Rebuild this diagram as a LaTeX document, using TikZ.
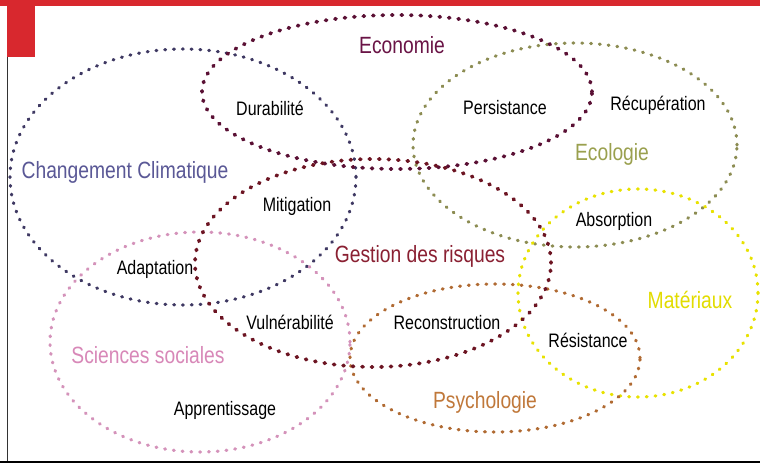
\documentclass[tikz,border=0pt]{standalone}
\usepackage{fontspec}
\setmainfont{Liberation Sans}[FakeStretch=0.82]
\definecolor{bandred}{HTML}{D8282E}
\definecolor{climc}{HTML}{3E3862}
\definecolor{climt}{HTML}{5A5896}
\definecolor{ecoc}{HTML}{5A1034}
\definecolor{ecot}{HTML}{6A1446}
\definecolor{ecolc}{HTML}{8C8C52}
\definecolor{ecolt}{HTML}{9AA04E}
\definecolor{gestc}{HTML}{6C1422}
\definecolor{gestt}{HTML}{8A2032}
\definecolor{socc}{HTML}{D492BA}
\definecolor{soct}{HTML}{D888B8}
\definecolor{psyc}{HTML}{B06A32}
\definecolor{psyt}{HTML}{C0783A}
\definecolor{matc}{HTML}{E8E200}
\definecolor{matt}{HTML}{E2DC00}
\definecolor{baseline}{HTML}{7A7068}
\tikzset{
  dots/.style={line cap=round, dash pattern=on 0.8pt off 8pt, line width=3.2pt},
  bigdots/.style={line cap=round, dash pattern=on 1pt off 8.5pt, line width=3.8pt},
  fieldname/.style={font=\fontsize{23.5}{26}\selectfont, inner sep=0pt},
  term/.style={font=\fontsize{19.5}{22}\selectfont, inner sep=0pt, text=black},
}
\begin{document}
\begin{tikzpicture}[x=1pt,y=-1pt]
\useasboundingbox (0,0) rectangle (760,463);
\fill[white] (0,0) rectangle (760,463);
% frame
\fill[bandred] (0,0) rectangle (760,6);
\fill[bandred] (7,0) rectangle (35,57);
\draw[black!80, line width=1pt] (7.5,57) -- (7.5,462);
\draw[baseline, line width=2pt] (0,462) -- (760,462);
% overlapping fields
\draw[dots, climc] (183,177) ellipse [x radius=173pt, y radius=128pt];
\draw[dots, socc] (200,342) ellipse [x radius=150pt, y radius=110pt];
\draw[dots, ecolc] (575,145) ellipse [x radius=162pt, y radius=102pt];
\draw[dots, matc] (638,293) ellipse [x radius=120pt, y radius=104pt];
\draw[dots, psyc] (495,358) ellipse [x radius=145pt, y radius=74pt];
\draw[bigdots, ecoc] (397,92) ellipse [x radius=195pt, y radius=77pt];
\draw[bigdots, gestc] (373,263) ellipse [x radius=178pt, y radius=104pt];
% field names
\node[fieldname, text=ecot] (economie) at (402,45) {Economie};
\node[fieldname, text=climt] (climat) at (125,172) {Changement Climatique};
\node[fieldname, text=ecolt] (ecologie) at (612,154) {Ecologie};
\node[fieldname, text=gestt] (gestion) at (420,256) {Gestion des risques};
\node[fieldname, text=matt] (materiaux) at (690,300) {Matériaux};
\node[fieldname, text=soct] (sociales) at (148,355) {Sciences sociales};
\node[fieldname, text=psyt] (psychologie) at (485,402) {Psychologie};
% shared terms
\node[term] (durabilite) at (270,108) {Durabilité};
\node[term] (persistance) at (505,108) {Persistance};
\node[term] (recuperation) at (658,105) {Récupération};
\node[term] (mitigation) at (297,206) {Mitigation};
\node[term] (absorption) at (614,221) {Absorption};
\node[term] (adaptation) at (155,269) {Adaptation};
\node[term] (vulnerabilite) at (290,322) {Vulnérabilité};
\node[term] (reconstruction) at (447,323) {Reconstruction};
\node[term] (resistance) at (588,340) {Résistance};
\node[term] (apprentissage) at (225,410) {Apprentissage};
\end{tikzpicture}
\end{document}
